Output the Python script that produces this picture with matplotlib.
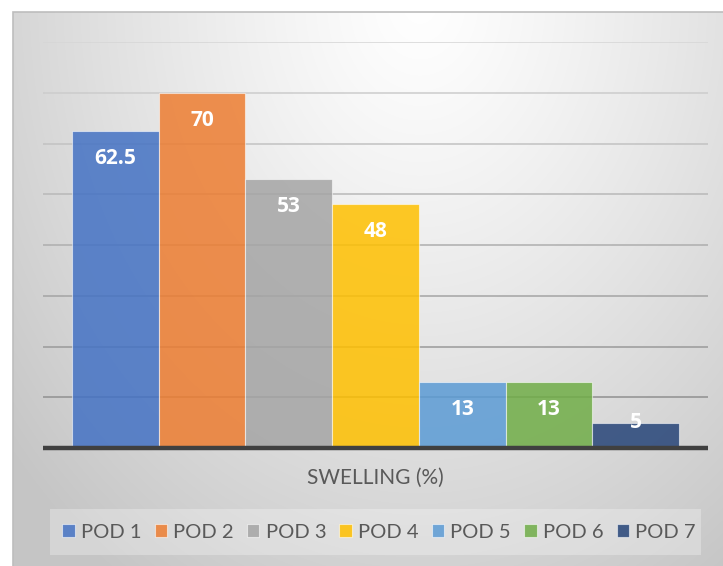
import numpy as np
import matplotlib
matplotlib.use("Agg")
import matplotlib.pyplot as plt
from matplotlib.patches import Rectangle
from matplotlib.colors import to_rgba

# ---- data ----
categories = ["SWELLING (%)"]
series = ["POD 1", "POD 2", "POD 3", "POD 4", "POD 5", "POD 6", "POD 7"]
values = [62.5, 70, 53, 48, 13, 13, 5]
colors = ["#4472C4", "#ED7D31", "#A5A5A5", "#FFC000", "#5B9BD5", "#70AD47", "#264478"]
y_ticks = list(range(0, 90, 10))

plt.rcParams['font.family'] = ['Lato', 'DejaVu Sans']

W, H = 723, 566
fig = plt.figure(figsize=(W / 100, H / 100), dpi=100)
fig.patch.set_facecolor("white")


def fx(px):
    return px / W


def fy(py):
    return 1 - py / H


# ---- background panel with radial gradient ----
bg = fig.add_axes([fx(13), 0, 1 - fx(13), fy(12)])
xs = np.arange(13, W) + 0.5
ys = np.arange(12, H) + 0.5
X, Y = np.meshgrid(xs, ys)
d = np.sqrt(((X - 420) / 480) ** 2 + ((Y - 0) / 620) ** 2)
d = np.minimum(d, 1.12)
g = (255 - 50 * d ** 1.2) / 255
img = np.dstack([g, g, g])
bg.imshow(img, extent=(13, W, H, 12), aspect='auto', interpolation='bilinear')
bg.set_xlim(13, W)
bg.set_ylim(H, 12)
bg.axis('off')
fig.patches.append(Rectangle((fx(13), -0.01), 1.02 - fx(13), fy(12) + 0.01,
                             transform=fig.transFigure, fill=False,
                             edgecolor='#bdbdbd', lw=1.2, zorder=1))

# ---- main axes ----
ax = fig.add_axes([fx(43), fy(448), fx(708) - fx(43), fy(42) - fy(448)])
ax.set_facecolor('none')
ax.set_ylim(0, 80)
ax.set_xlim(-0.5, 0.5)

group_w = 607 / 665
bw = group_w / len(series)
xpos = [(i - (len(series) - 1) / 2) * bw for i in range(len(series))]

handles = []
for x, v, c, name in zip(xpos, values, colors, series):
    b = ax.bar(x, v, width=bw, color=to_rgba(c, 0.85),
               edgecolor=(1, 1, 1, 0.55), linewidth=0.8, label=name, zorder=2)
    handles.append(b)
    off = -27.5 if v >= 10 else 0
    ax.annotate(f"{v:g}", xy=(x, v), xytext=(0, off), textcoords='offset pixels',
                ha='center', va='center', color='white', fontweight='bold',
                fontsize=15, family=['Open Sans', 'DejaVu Sans'], zorder=5)

ax.set_yticks(y_ticks)
ax.yaxis.grid(True, linewidth=1.1)
ax.set_axisbelow(True)
grid_lines = ax.get_ygridlines()
n = len(grid_lines)
for k, line in enumerate(grid_lines):
    t = k / (n - 1)
    gray = 0x86 + (0xd6 - 0x86) * t
    line.set_color((gray / 255, gray / 255, gray / 255))
ax.tick_params(left=False, bottom=False, labelleft=False, labelbottom=False)
ax.set_xticks([])
for s in ['top', 'left', 'right']:
    ax.spines[s].set_visible(False)
ax.spines['bottom'].set_color('#404040')
ax.spines['bottom'].set_linewidth(3.2)
ax.spines['bottom'].set_capstyle('butt')
ax.spines['bottom'].set_zorder(4)

# axis title
fig.text(fx(375), fy(478), categories[0], ha='center', va='center',
         fontsize=15, color='#595959')

# legend box
fig.patches.append(Rectangle((fx(50), fy(555)), fx(701) - fx(50), (555 - 509) / H,
                             transform=fig.transFigure, facecolor=(1, 1, 1, 0.28),
                             edgecolor='none', zorder=1))
fig.legend(handles=handles, labels=series, loc='center',
           bbox_to_anchor=(fx(379), fy(532)), ncol=7, frameon=False,
           fontsize=14.5, handlelength=0.62, handleheight=0.67,
           handletextpad=0.3, columnspacing=0.66, labelcolor='#595959')

fig.savefig("out.png", dpi=100)
